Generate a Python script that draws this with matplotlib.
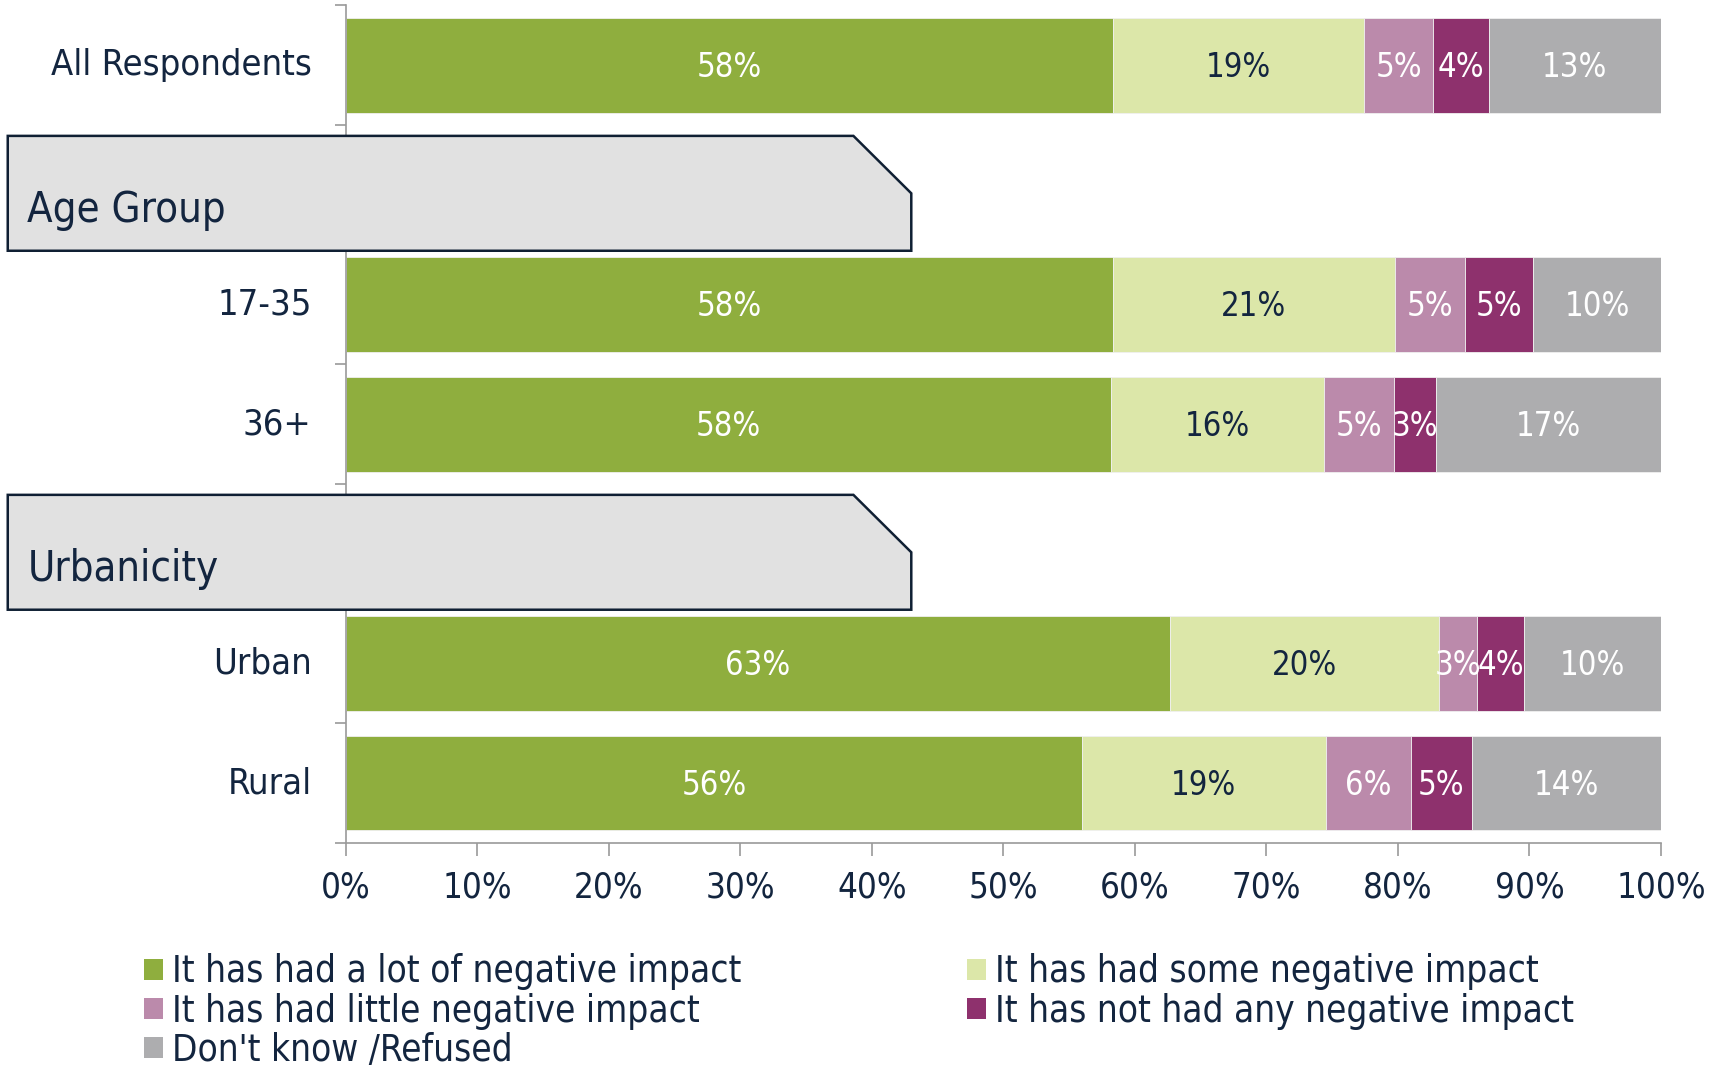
import matplotlib
matplotlib.use('Agg')
import matplotlib.pyplot as plt
from matplotlib.patches import Polygon, Patch

plt.rcParams['font.family'] = ['DejaVu Sans']
plt.rcParams['font.stretch'] = 'condensed'

# rows top to bottom; header rows carry no bar
rows = ['All Respondents', 'Age Group', '17-35', '36+', 'Urbanicity', 'Urban', 'Rural']
is_header = [False, True, False, False, True, False, False]

series = ['It has had a lot of negative impact',
          'It has had some negative impact',
          'It has had little negative impact',
          'It has not had any negative impact',
          "Don't know /Refused"]

a_lot   = [58.3, 0, 58.3, 58.2, 0, 62.7, 56.0]
some    = [19.1, 0, 21.5, 16.2, 0, 20.4, 18.5]
little  = [5.3, 0, 5.3, 5.3, 0, 2.9, 6.5]
not_any = [4.2, 0, 5.2, 3.2, 0, 3.6, 4.6]
dk      = [13.1, 0, 9.7, 17.1, 0, 10.4, 14.4]

labels_a_lot   = ['58%', '', '58%', '58%', '', '63%', '56%']
labels_some    = ['19%', '', '21%', '16%', '', '20%', '19%']
labels_little  = ['5%', '', '5%', '5%', '', '3%', '6%']
labels_not_any = ['4%', '', '5%', '3%', '', '4%', '5%']
labels_dk      = ['13%', '', '10%', '17%', '', '10%', '14%']

colors = ['#8FAE3E', '#DCE7A9', '#BB8AAB', '#8E316D', '#ADADAF']
text_colors = ['white', '#13253F', 'white', 'white', 'white']
navy = '#13253F'

fig = plt.figure(figsize=(17.21, 10.70), dpi=100)
ax = fig.add_axes([0.2009, 0.2121, 0.7642, 0.7828])

y = list(range(len(rows)))
left = [0] * len(rows)
all_vals = [a_lot, some, little, not_any, dk]
all_labels = [labels_a_lot, labels_some, labels_little, labels_not_any, labels_dk]
for vals, labs, c, tc, name in zip(all_vals, all_labels, colors, text_colors, series):
    bars = ax.barh(y, vals, left=left, height=0.79, color=c, label=name,
                   edgecolor='#F0F0F0', linewidth=0.6)
    for b, lab in zip(bars, labs):
        if lab:
            ax.text(b.get_x() + b.get_width() / 2, b.get_y() + b.get_height() / 2 + 0.02, lab,
                    ha='center', va='center', color=tc, fontsize=23.5)
    left = [l + v for l, v in zip(left, vals)]

ax.set_xlim(0, 100)
ax.set_ylim(6.5, -0.5)
ax.set_xticks(range(0, 101, 10))
ax.set_xticklabels([f'{t}%' for t in range(0, 101, 10)], fontsize=25, color=navy)
ax.set_yticks([i - 0.5 for i in range(len(rows) + 1)])
ax.set_yticklabels([])
ax.tick_params(axis='x', length=9, color='#9A9A9A', width=1.2, pad=11)
ax.tick_params(axis='y', length=8, color='#9A9A9A', width=1.2)
for s in ['top', 'right']:
    ax.spines[s].set_visible(False)
for s in ['left', 'bottom']:
    ax.spines[s].set_color('#9A9A9A')
    ax.spines[s].set_linewidth(1.2)

# category labels and group header boxes
for i, (r, h) in enumerate(zip(rows, is_header)):
    if not h:
        ax.text(-2.6, i, r, ha='right', va='center', fontsize=26, color=navy)
    else:
        top, bot = i - 0.41, i + 0.55
        poly = Polygon([(-25.7, top), (38.6, top), (43.0, i + 0.07), (43.0, bot), (-25.7, bot)],
                       closed=True, facecolor='#E1E1E1', edgecolor='#0F1F33',
                       linewidth=1.8, clip_on=False, zorder=5)
        ax.add_patch(poly)
        ax.text(-24.2, i + 0.21, r, ha='left', va='center', fontsize=30, color=navy,
                zorder=6, clip_on=False)

handles = [Patch(facecolor=c) for c in colors]
leg_kw = dict(frameon=False, fontsize=26.5, labelcolor=navy, handlelength=0.52,
              handleheight=0.52, handletextpad=0.25, labelspacing=0.06, borderaxespad=0,
              borderpad=0)
fig.legend([handles[0], handles[2], handles[4]], [series[0], series[2], series[4]],
           loc='upper left', bbox_to_anchor=(0.0836, 0.109), **leg_kw)
fig.legend([handles[1], handles[3]], [series[1], series[3]],
           loc='upper left', bbox_to_anchor=(0.5617, 0.109), **leg_kw)

fig.savefig('out.png', dpi=100)
